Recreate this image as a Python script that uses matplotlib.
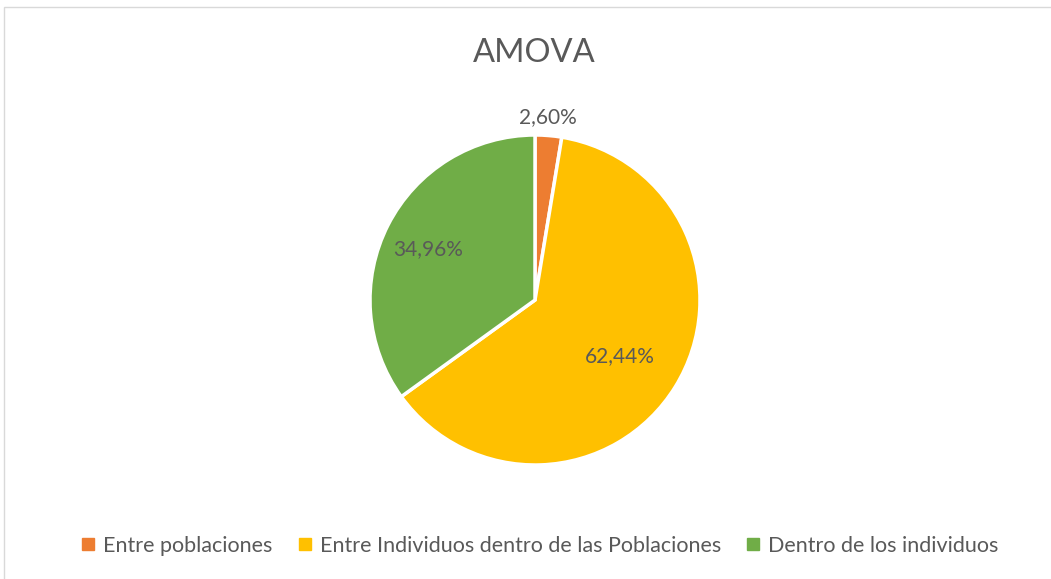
import matplotlib.pyplot as plt
from matplotlib.patches import Rectangle
from matplotlib.lines import Line2D
import numpy as np

plt.rcParams['font.family'] = ['Lato', 'DejaVu Sans']

categories = ['Entre poblaciones', 'Entre Individuos dentro de las Poblaciones', 'Dentro de los individuos']
values = [2.60, 62.44, 34.96]
labels = ['2,60%', '62,44%', '34,96%']
colors = ['#ED7D31', '#FFC000', '#70AD47']
label_dist = [1.13, 0.62, 0.71]
text_color = '#595959'

W, H = 1051, 579
fig = plt.figure(figsize=(W / 100, H / 100), dpi=100)

# chart frame
fig.patches.append(Rectangle((4 / W, -0.01), 1.1, 1 - 7 / H + 0.01, transform=fig.transFigure,
                             fill=False, edgecolor='#D9D9D9', linewidth=1))

cx, cy, r = 535, H - 300, 165
ax = fig.add_axes([(cx - r) / W, (cy - r) / H, 2 * r / W, 2 * r / H])
wedges, _ = ax.pie(values, colors=colors, startangle=90, counterclock=False, radius=1,
                   wedgeprops=dict(edgecolor='white', linewidth=2.5))
ax.set_xlim(-1, 1)
ax.set_ylim(-1, 1)
ax.axis('off')

for w, lab, d in zip(wedges, labels, label_dist):
    ang = np.deg2rad((w.theta1 + w.theta2) / 2)
    ax.text(d * np.cos(ang) - 0.015, d * np.sin(ang) - 0.015, lab, ha='center', va='center',
            fontsize=15, color=text_color)

fig.text(534 / W, 1 - 53 / H, 'AMOVA', ha='center', va='center', fontsize=23.5, color=text_color)

handles = [Line2D([], [], marker='s', linestyle='none', markersize=8, color=c) for c in colors]
fig.legend(handles, categories, loc='center', bbox_to_anchor=(538 / W, 1 - 546 / H), ncol=3,
           frameon=False, fontsize=15.5, labelcolor=text_color, handletextpad=0.2,
           columnspacing=1.0, handlelength=1.0)

fig.savefig('out.png', dpi=100)
